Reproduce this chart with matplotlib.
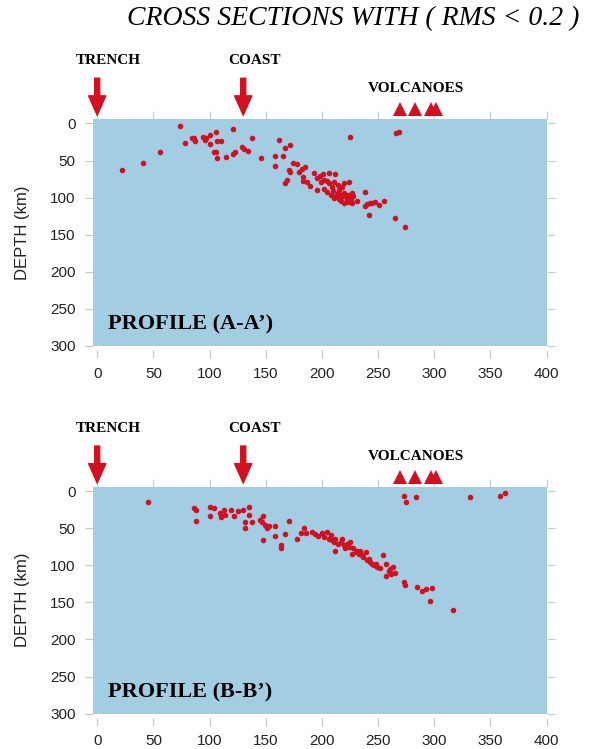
import matplotlib
matplotlib.use("Agg")
import matplotlib.pyplot as plt

# profile A-A' hypocentres (distance km, depth km)
a_dist = [22, 41, 56, 74, 78, 84, 86, 87, 94, 96, 97, 100, 100, 106, 107, 110, 104, 106, 107, 115,
          121, 121, 123, 129, 131, 134, 138, 146,
          162, 167, 172, 158, 165, 158, 174, 178, 182, 185, 171, 172, 169, 167, 180, 183, 183, 187, 189,
          193, 198, 201, 206, 212, 196, 199, 202, 196, 202, 205, 206, 209, 211, 214, 215, 218, 220, 224,
          205, 208, 210, 213, 214, 216, 219, 220, 222, 223, 225, 227, 226, 228,
          211, 215, 217, 220, 223, 227,
          225, 266, 269,
          231, 238, 238, 240, 243, 245, 247, 251, 255, 242, 265, 274]
a_depth = [63, 54, 39, 4, 27, 20, 19, 24, 18, 23, 20, 15, 28, 12, 24, 24, 38, 39, 46, 45,
           7, 41, 38, 32, 34, 37, 19, 46,
           23, 33, 29, 44, 44, 57, 53, 55, 62, 59, 63, 65, 76, 80, 65, 72, 77, 79, 84,
           67, 71, 68, 67, 68, 74, 79, 76, 90, 88, 77, 81, 86, 79, 83, 90, 86, 81, 79,
           93, 96, 91, 98, 94, 96, 98, 94, 102, 97, 99, 94, 103, 98,
           100, 102, 105, 108, 106, 108,
           18, 13, 11,
           105, 93, 111, 109, 108, 107, 106, 110, 104, 123, 128, 140]

# profile B-B' hypocentres
b_dist = [45, 86, 88, 88, 100, 104, 100, 109, 110, 114, 113, 119, 125, 130, 135, 122, 135, 132, 138, 132,
          148, 145, 147, 149, 151, 153, 148, 158, 158, 164, 164, 167, 171, 178, 181, 184, 186,
          191, 194, 197, 200, 202, 205, 206, 208, 209, 211, 212, 212, 214, 217, 218, 220, 221, 222, 224, 225,
          227, 228, 230, 231, 233, 234, 236, 237, 239, 240, 242, 243, 245, 246, 248, 249, 252, 254, 257, 260,
          263, 261, 262, 265, 257, 273, 274, 285, 289, 293, 298, 296, 317,
          273, 275, 284, 332, 359, 363]
b_depth = [14, 23, 25, 40, 21, 23, 33, 30, 35, 32, 25, 25, 26, 25, 21, 33, 32, 41, 42, 49,
           34, 39, 42, 45, 49, 47, 66, 47, 60, 73, 76, 58, 40, 64, 57, 50, 56,
           55, 58, 61, 57, 62, 55, 64, 59, 66, 68, 64, 80, 71, 68, 64, 73, 77, 71, 75, 68,
           84, 77, 82, 80, 84, 80, 86, 89, 82, 93, 91, 95, 98, 100, 98, 102, 104, 86, 98, 107,
           102, 105, 111, 110, 115, 122, 126, 129, 135, 132, 131, 148, 160,
           6, 14, 8, 8, 6, 3]

dist_ticks = [0, 50, 100, 150, 200, 250, 300, 350, 400]
depth_ticks = [0, 50, 100, 150, 200, 250, 300]
trench_x = 0
coast_x = 130
volcano_x = [270, 283, 297, 302]

red = "#d2101f"
blue = "#a3cde3"
serif = "Liberation Serif"
sans = "Liberation Sans"


def draw_panel(ax, xs, ys, label):
    ax.set_facecolor(blue)
    ax.plot(xs, ys, "o", color=red, markersize=4, markeredgewidth=0)
    ax.set_xlim(-4.2, 400)
    ax.set_ylim(300, -6)
    ax.set_xticks(dist_ticks)
    ax.set_yticks(depth_ticks)
    for s in ax.spines.values():
        s.set_visible(False)
    ax.spines["bottom"].set_position(("outward", 3))
    ax.tick_params(direction="out", length=6, width=0.8, color="#c8c8c8",
                   top=True, right=True, labelsize=11, labelcolor="#222222", pad=6)
    for t in ax.get_xticklabels() + ax.get_yticklabels():
        t.set_fontfamily(sans)
    ax.set_ylabel("DEPTH (km)", fontsize=12, family=sans, color="#222222")
    ax.yaxis.set_label_coords(-0.137, 0.5)

    ax.text(9.6, 271, label, fontsize=16, fontweight="bold", family=serif, va="center", ha="left")

    # trench / coast markers above the section
    for x, name in [(trench_x, "TRENCH"), (coast_x, "COAST")]:
        ax.annotate("", xy=(x, -11), xytext=(x, -61), annotation_clip=False,
                    arrowprops=dict(arrowstyle="simple,head_length=0.7,head_width=0.62,tail_width=0.18",
                                    color=red, shrinkA=0, shrinkB=0, mutation_scale=20))
        ax.text(x + 10, -85, name, fontsize=11, fontweight="bold", family=serif,
                ha="center", va="center", clip_on=False)
    ax.plot(volcano_x, [-19] * len(volcano_x), "^", color=red, markersize=9.5,
            markeredgewidth=0, clip_on=False)
    ax.text(284, -47, "VOLCANOES", fontsize=11, fontweight="bold", family=serif,
            ha="center", va="center", clip_on=False)


fig = plt.figure(figsize=(5.9, 7.49), dpi=100)
fig.text(353 / 590, 1 - 19 / 749, "CROSS SECTIONS WITH ( RMS < 0.2 )", fontsize=20,
         family=serif, style="italic", ha="center", va="center")

ax1 = fig.add_axes([92.5 / 590, 1 - 345.8 / 749, 454 / 590, 226.8 / 749])
ax2 = fig.add_axes([92.5 / 590, 1 - 713.6 / 749, 454 / 590, 226.8 / 749])

draw_panel(ax1, a_dist, a_depth, "PROFILE (A-A\u2019)")
draw_panel(ax2, b_dist, b_depth, "PROFILE (B-B\u2019)")

fig.savefig("out.png", dpi=100)
